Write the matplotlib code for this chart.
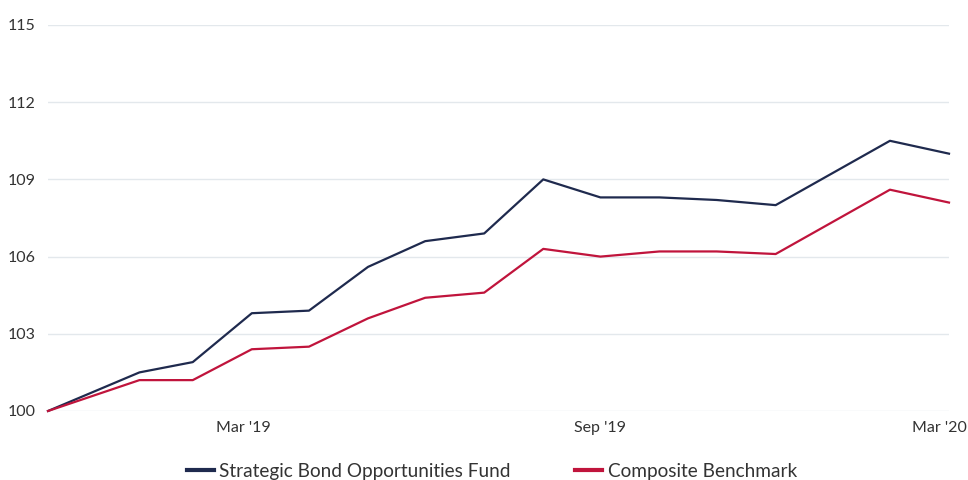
import matplotlib
matplotlib.use("Agg")
import matplotlib.pyplot as plt
import matplotlib.transforms as mtransforms
import pandas as pd

# month-end values, fund started mid Dec 2018
dates = ["2018-12-14", "2019-01-31", "2019-02-28", "2019-03-31", "2019-04-30",
         "2019-05-31", "2019-06-30", "2019-07-31", "2019-08-31", "2019-09-30",
         "2019-10-31", "2019-11-30", "2019-12-31", "2020-02-29", "2020-03-31"]
fund = [100.0, 101.5, 101.9, 103.8, 103.9, 105.6, 106.6, 106.9, 109.0, 108.3,
        108.3, 108.2, 108.0, 110.5, 110.0]
benchmark = [100.0, 101.2, 101.2, 102.4, 102.5, 103.6, 104.4, 104.6, 106.3, 106.0,
             106.2, 106.2, 106.1, 108.6, 108.1]
series_names = ["Strategic Bond Opportunities Fund", "Composite Benchmark"]
yticks = [100, 103, 106, 109, 112, 115]
xtick_dates = ["2019-03-31", "2019-09-30", "2020-03-31"]
xtick_labels = ["Mar '19", "Sep '19", "Mar '20"]

plt.rcParams['font.family'] = ['Lato', 'DejaVu Sans']

x = pd.to_datetime(dates)
fig = plt.figure(figsize=(9.68, 4.8), dpi=100)
ax = fig.add_axes([48/968, 69/480, 901/968, 386/480])

ax.plot(x, fund, color='#1f2a4e', lw=1.6, label=series_names[0], clip_on=False, zorder=3)
ax.plot(x, benchmark, color='#c0143c', lw=1.6, label=series_names[1], clip_on=False, zorder=3)

ax.set_xlim(x[0], x[-1])
ax.set_ylim(100, 115)
ax.set_yticks(yticks)
ax.set_xticks(pd.to_datetime(xtick_dates))
ax.set_xticklabels(xtick_labels)
ax.grid(axis='y', color='#e3e8ec', lw=1)
ax.set_axisbelow(True)
for s in ax.spines.values():
    s.set_visible(False)
ax.tick_params(axis='both', length=0, labelsize=11.5, colors='#333333')
ax.tick_params(axis='y', pad=9)
ax.tick_params(axis='x', pad=7)

# nudge first and last x labels like the original (last one kept inside the figure)
xlabels = ax.get_xticklabels()
xlabels[0].set_transform(xlabels[0].get_transform() +
                         mtransforms.ScaledTranslation(-8/100, 0, fig.dpi_scale_trans))
xlabels[-1].set_horizontalalignment('right')
xlabels[-1].set_transform(xlabels[-1].get_transform() +
                          mtransforms.ScaledTranslation(18/100, 0, fig.dpi_scale_trans))

leg = fig.legend(loc='center', bbox_to_anchor=(492/968, 9/480), ncol=2, frameon=False,
                 fontsize=13.7, handlelength=1.4, handletextpad=0.3, columnspacing=3.4)
for h in leg.get_lines():
    h.set_linewidth(3)
for t in leg.get_texts():
    t.set_color('#333333')

fig.savefig("out.png", dpi=100)
